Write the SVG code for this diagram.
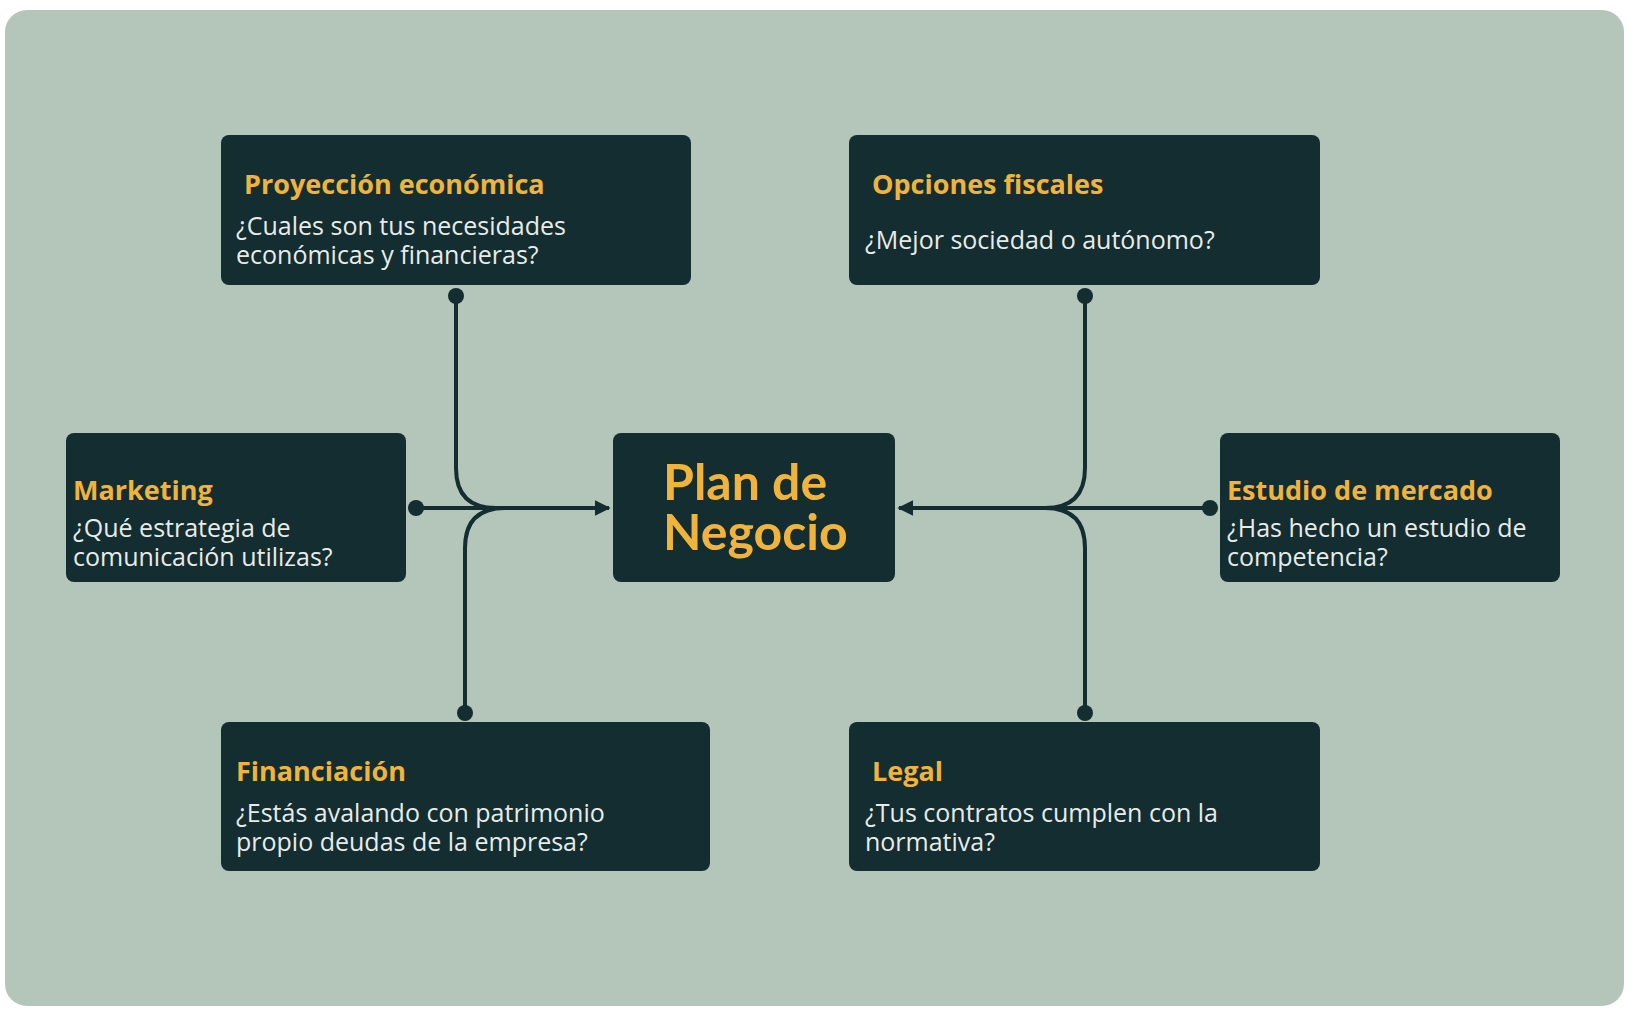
<svg xmlns="http://www.w3.org/2000/svg" width="1629" height="1011" viewBox="0 0 1629 1011">
<style>
.box{fill:#132d30}
.t{font-family:"Open Sans","Liberation Sans",sans-serif;font-weight:bold;font-size:27px;fill:#f0b43c}
.b{font-family:"Open Sans","Liberation Sans",sans-serif;font-size:25px;fill:#e8ece9}
.big{font-family:Lato,"Liberation Sans",sans-serif;font-weight:bold;font-size:50px;fill:#f0b43c}
.c{fill:none;stroke:#132d30;stroke-width:4}
.d{fill:#132d30}
</style>
<defs><marker id="ar" viewBox="0 0 10 10" refX="9" refY="5" markerWidth="4" markerHeight="4" orient="auto"><path d="M0,0L10,5L0,10z" fill="#132d30"/></marker></defs>
<rect x="5" y="10" width="1619" height="996" rx="22" fill="#b4c5ba"/>
<g id="connectors">
<path class="c" d="M456,296V468Q456,508 496,508"/>
<path class="c" d="M465,713V548Q465,508 505,508"/>
<path class="c" d="M416,508H609" marker-end="url(#ar)"/>
<path class="c" d="M1085,296V468Q1085,508 1045,508"/>
<path class="c" d="M1085,713V548Q1085,508 1045,508"/>
<path class="c" d="M1210,508H899" marker-end="url(#ar)"/>
<circle class="d" cx="456" cy="296" r="8"/><circle class="d" cx="465" cy="713" r="8"/>
<circle class="d" cx="416" cy="508" r="8"/><circle class="d" cx="1085" cy="296" r="8"/>
<circle class="d" cx="1085" cy="713" r="8"/><circle class="d" cx="1210" cy="508" r="8"/>
</g>
<g id="proyeccion"><rect class="box" x="221" y="135" width="470" height="150" rx="8"/>
<text class="t" x="244" y="194">Proyección económica</text>
<text class="b" x="236" y="235">¿Cuales son tus necesidades</text><text class="b" x="236" y="264">económicas y financieras?</text></g>
<g id="opciones"><rect class="box" x="849" y="135" width="471" height="150" rx="8"/>
<text class="t" x="872" y="194">Opciones fiscales</text>
<text class="b" x="865" y="249">¿Mejor sociedad o autónomo?</text></g>
<g id="marketing"><rect class="box" x="66" y="433" width="340" height="149" rx="8"/>
<text class="t" x="73" y="500">Marketing</text>
<text class="b" x="73" y="537">¿Qué estrategia de</text><text class="b" x="73" y="566">comunicación utilizas?</text></g>
<g id="plan"><rect class="box" x="613" y="433" width="282" height="149" rx="8"/>
<text class="big" x="663" y="500">Plan de</text><text class="big" x="663" y="550">Negocio</text></g>
<g id="estudio"><rect class="box" x="1220" y="433" width="340" height="149" rx="8"/>
<text class="t" x="1227" y="500">Estudio de mercado</text>
<text class="b" x="1227" y="537">¿Has hecho un estudio de</text><text class="b" x="1227" y="566">competencia?</text></g>
<g id="financiacion"><rect class="box" x="221" y="722" width="489" height="149" rx="8"/>
<text class="t" x="236" y="781">Financiación</text>
<text class="b" x="236" y="822">¿Estás avalando con patrimonio</text><text class="b" x="236" y="851">propio deudas de la empresa?</text></g>
<g id="legal"><rect class="box" x="849" y="722" width="471" height="149" rx="8"/>
<text class="t" x="872" y="781">Legal</text>
<text class="b" x="865" y="822">¿Tus contratos cumplen con la</text><text class="b" x="865" y="851">normativa?</text></g>
</svg>
